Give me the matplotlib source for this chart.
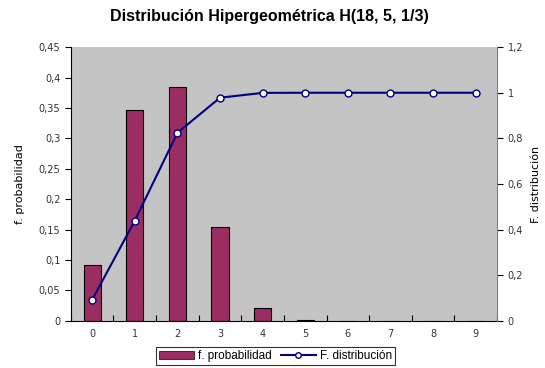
import numpy as np
import matplotlib.pyplot as plt
from matplotlib.patches import Patch
from matplotlib.lines import Line2D

# Hypergeometric H(18, 5, 1/3): probability and cumulative distribution
valores = [0, 1, 2, 3, 4, 5, 6, 7, 8, 9]
f_probabilidad = [0.0924, 0.3466, 0.3852, 0.1541, 0.0210, 0.0007, 0, 0, 0, 0]
F_distribucion = [0.0924, 0.4391, 0.8243, 0.9783, 0.9993, 1.0, 1.0, 1.0, 1.0, 1.0]

bar_color = '#9B2D62'
line_color = '#000080'

fig = plt.figure(figsize=(5.45, 3.68), dpi=100)
ax = fig.add_axes([0.130, 0.128, 0.782, 0.744])
ax.set_facecolor('#C4C4C4')

x = np.arange(len(valores))
ax.bar(x, f_probabilidad, width=0.4, color=bar_color, edgecolor='black', linewidth=0.8, zorder=2)
ax.set_xlim(-0.5, len(valores) - 0.5)
ax.set_ylim(0, 0.45)
ax.set_yticks(np.arange(0, 0.451, 0.05))
ax.set_yticklabels(['0', '0,05', '0,1', '0,15', '0,2', '0,25', '0,3', '0,35', '0,4', '0,45'])
ax.set_xticks(x)
ax.set_xticklabels([str(v) for v in valores])
ax.set_xticks(np.arange(-0.5, len(valores)), minor=True)
ax.tick_params(axis='x', which='major', length=0, pad=6)
ax.tick_params(axis='x', which='minor', length=4, direction='in', width=0.8)
ax.tick_params(axis='y', length=4, width=0.8)
ax.tick_params(labelsize=7, labelcolor='#333333')
ax.set_ylabel('f. probabilidad', fontsize=8, labelpad=10)
ax.spines['top'].set_visible(False)
ax.spines['right'].set_visible(False)

ax2 = ax.twinx()
ax2.plot(x, F_distribucion, color=line_color, linewidth=1.5, marker='o', markersize=5,
         markerfacecolor='white', markeredgecolor=line_color, markeredgewidth=1, zorder=3)
ax2.set_ylim(0, 1.2)
ax2.set_yticks(np.arange(0, 1.21, 0.2))
ax2.set_yticklabels(['0', '0,2', '0,4', '0,6', '0,8', '1', '1,2'])
ax2.tick_params(axis='y', length=4, width=0.8, labelsize=7, labelcolor='#333333')
ax2.set_ylabel('F. distribución', fontsize=8, labelpad=6)
ax2.spines['right'].set_color('#808080')
ax2.spines['top'].set_visible(False)
ax2.spines['left'].set_visible(False)
ax2.spines['bottom'].set_visible(False)

fig.suptitle('Distribución Hipergeométrica H(18, 5, 1/3)', y=0.975, x=0.495, fontsize=11.5,
             fontweight='bold', family='Liberation Sans')

handles = [Patch(facecolor=bar_color, edgecolor='black', linewidth=0.5),
           Line2D([0], [0], color=line_color, marker='o', markersize=4,
                  markerfacecolor='white', markeredgecolor=line_color)]
leg = fig.legend(handles, ['f. probabilidad', 'F. distribución'], loc='center',
                 bbox_to_anchor=(0.505, 0.033), ncol=2, frameon=True,
                 fancybox=False, edgecolor='black', handlelength=3, columnspacing=0.8,
                 handletextpad=0.3, borderpad=0.25, prop={'family': 'Liberation Sans', 'size': 8.5})
leg.get_frame().set_linewidth(0.8)

fig.savefig('out.png', dpi=100)
